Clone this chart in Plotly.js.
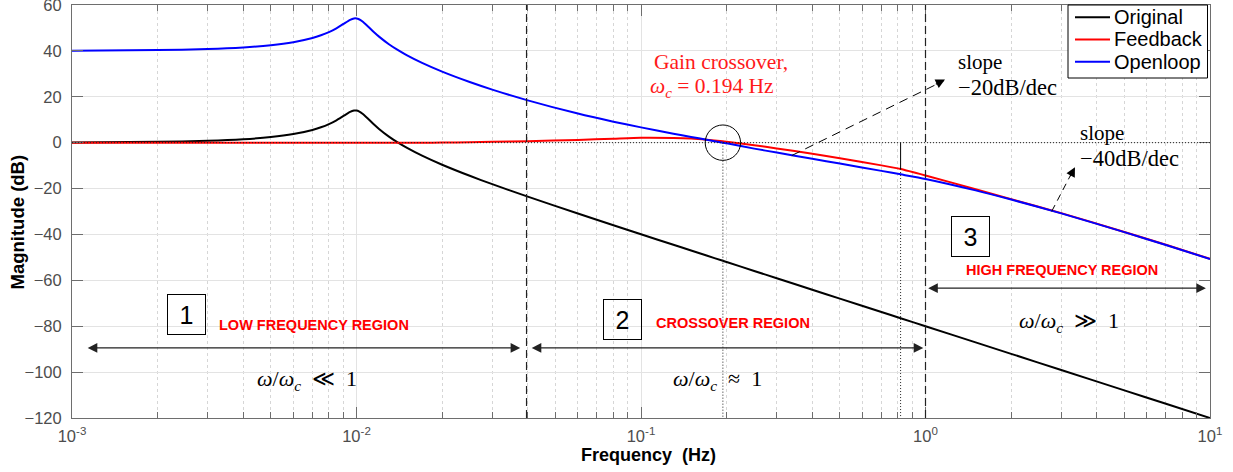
<!DOCTYPE html>
<html>
<head>
<meta charset="utf-8">
<script src="https://cdn.plot.ly/plotly-3.0.1.min.js"></script>
<style>
html,body{margin:0;padding:0;background:#ffffff;}
#chart{width:1233px;height:472px;}
</style>
</head>
<body>
<div id="chart"></div>
<script>
// ---------- data ----------
const freqHz = [0.001,0.002,0.003,0.004,0.005,0.006,0.007,0.0075,0.008,0.0085,0.009,0.0095,0.0098,0.01,0.0102,0.0105,0.011,0.0115,0.012,0.013,0.014,0.015,0.017,0.02,0.025,0.03,0.04,0.06,0.08,0.1,0.13,0.15,0.17,0.194,0.2,0.25,0.3,0.4,0.5,0.7,0.8175,1,1.5,2,3,5,7,10];

const originalDb = [0.09,0.35,0.80,1.48,2.42,3.73,5.53,6.70,8.09,9.75,11.64,13.41,13.98,13.98,13.64,12.63,10.34,8.04,6.00,2.65,0.00,-2.18,-5.67,-9.62,-14.44,-18.09,-23.53,-30.89,-35.99,-39.91,-44.51,-47.00,-49.19,-51.49,-52.02,-55.90,-59.08,-64.08,-67.96,-73.80,-76.50,-80.00,-87.04,-92.04,-99.08,-107.96,-113.80,-120.00];

const feedbackDb = [-0.09,-0.08,-0.07,-0.07,-0.06,-0.05,-0.04,-0.04,-0.03,-0.03,-0.02,-0.02,-0.02,-0.02,-0.02,-0.02,-0.02,-0.03,-0.03,-0.04,-0.04,-0.04,-0.02,0.05,0.2,0.35,0.65,1.2,1.75,2.15,2.05,1.8,1.3,0.6,0.4,-1.1,-2.5,-4.8,-6.8,-9.9,-11.5,-14.3,-20.3,-24.6,-30.7,-38.9,-44.5,-50.65];

const openloopDb = [40.09,40.35,40.81,41.50,42.46,43.79,45.61,46.79,48.19,49.86,51.76,53.55,54.13,54.13,53.80,52.80,50.52,48.24,46.22,42.90,40.29,38.15,34.76,30.96,26.43,23.12,18.43,12.68,9.16,6.66,3.92,2.51,1.29,0.0,-0.26,-2.6,-4.3,-7.0,-9.1,-12.3,-13.8,-15.8,-20.8,-24.8,-30.8,-39.0,-44.6,-50.7];

const seriesNames = ['Original','Feedback','Openloop'];
const seriesColors = ['#000000','#ff0000','#0000ff'];

const xTickVals = [0.001,0.01,0.1,1,10];
const xTickText = ['10<sup>-3</sup>','10<sup>-2</sup>','10<sup>-1</sup>','10<sup>0</sup>','10<sup>1</sup>'];

const xTitle = 'Frequency  (Hz)';
const yTitle = 'Magnitude (dB)';

// key frequencies of the annotations
const crossoverHz = 0.194;
const regionEdgesHz = [0.0396, 1.0];
const markerHz = 0.8175;
const markerDb = -11.5;

// ---------- build ----------
const W = 1233, H = 472;
const M = {l: 72, r: 23, t: 5, b: 54};
const plotW = W - M.l - M.r, plotH = H - M.t - M.b;
const xp = px => (px - M.l) / plotW;          // pixel -> paper
const yp = py => (H - M.b - py) / plotH;

const minorVals = [];
for (let d = -3; d <= 0; d++) {
  for (let m = 2; m <= 9; m++) minorVals.push(m * Math.pow(10, d));
}

const seriesY = [originalDb, feedbackDb, openloopDb];
const traces = seriesY.map((ys, i) => ({
  type: 'scatter',
  mode: 'lines',
  name: seriesNames[i],
  x: freqHz,
  y: ys,
  showlegend: false,
  line: {color: seriesColors[i], width: 2, shape: 'spline', smoothing: 0.6}
}));

const L = Math.log10;
const serif = 'Liberation Serif, Times New Roman, serif';
const sans = 'Liberation Sans, Arial, Helvetica, sans-serif';
const axisGray = '#6e6e6e';

function txt(text, lx, y, opts) {
  return Object.assign({
    text: text, x: lx, y: y, xref: 'x', yref: 'y', showarrow: false,
    xanchor: 'left', yanchor: 'middle',
    font: {family: serif, size: 21, color: '#000'}
  }, opts || {});
}
function boxNum(n, lx, y) {
  return {
    text: n, x: lx, y: y, xref: 'x', yref: 'y', showarrow: false,
    xanchor: 'center', yanchor: 'middle', width: 27, height: 29,
    bordercolor: '#000', borderwidth: 1, borderpad: 5, bgcolor: 'rgba(255,255,255,0)',
    font: {family: sans, size: 25, color: '#000'}
  };
}
function regionLabel(t, lx, y) {
  return {
    text: '<b>' + t + '</b>', x: lx, y: y, xref: 'x', yref: 'y', showarrow: false,
    xanchor: 'left', yanchor: 'middle',
    font: {family: sans, size: 14.5, color: '#ff0000'}
  };
}
function dblArrow(f0, f1, y) {
  return {
    text: '', x: L(f1), y: y, ax: L(f0), ay: y, axref: 'x', ayref: 'y', xref: 'x', yref: 'y',
    showarrow: true, arrowside: 'end+start', arrowhead: 2, startarrowhead: 2,
    arrowsize: 1.6, startarrowsize: 1.6, arrowwidth: 1.2, arrowcolor: '#222',
    standoff: 0, startstandoff: 0
  };
}
function headAt(f, y, ax, ay) {
  return {
    text: '', x: L(f), y: y, xref: 'x', yref: 'y', ax: ax, ay: ay,
    showarrow: true, arrowhead: 2, arrowsize: 1.7, arrowwidth: 1.1, arrowcolor: '#000', standoff: 0
  };
}

const w = '\u00a0';
const annotations = [
  txt('Gain crossover,', -0.962, 35.0, {font: {family: serif, size: 21.5, color: '#ff1a1a'}}),
  txt('<i>ω<sub>c</sub></i>' + w + '=' + w + '0.194 Hz', -0.975, 23.9, {font: {family: serif, size: 21.5, color: '#ff1a1a'}}),
  txt('slope', 0.107, 35.0),
  txt('−20dB/dec', 0.107, 24.1, {font: {family: serif, size: 22.5, color: '#000'}}),
  txt('slope', 0.536, 4.2),
  txt('−40dB/dec', 0.536, -6.7, {font: {family: serif, size: 22.5, color: '#000'}}),
  boxNum('1', -2.596, -74.8),
  boxNum('2', -1.065, -76.9),
  boxNum('3', 0.159, -40.7),
  regionLabel('LOW FREQUENCY REGION', -2.49, -79.4),
  regionLabel('CROSSOVER REGION', -0.956, -78.4),
  regionLabel('HIGH FREQUENCY REGION', 0.136, -55.4),
  txt('<i>ω</i>/<i>ω<sub>c</sub></i>' + w + w + '≪' + w + w + '1', -2.175, -103.4, {xanchor: 'center', font: {family: serif, size: 22, color: '#000'}}),
  txt('<i>ω</i>/<i>ω<sub>c</sub></i>' + w + w + '≈' + w + w + '1', -0.731, -103.4, {xanchor: 'center', font: {family: serif, size: 22, color: '#000'}}),
  txt('<i>ω</i>/<i>ω<sub>c</sub></i>' + w + w + '≫' + w + w + '1', 0.506, -78.0, {xanchor: 'center', font: {family: serif, size: 22, color: '#000'}}),
  dblArrow(0.001122, 0.03763, -89.45),
  dblArrow(0.04079, 0.9824, -89.45),
  dblArrow(1.0098, 9.674, -63.4),
  headAt(1.171, 27.5, -10.7, 5.4),
  headAt(3.352, -10.7, -5.5, 10.6),
  // axis titles
  {text: '<b>' + xTitle + '</b>', xref: 'paper', yref: 'paper', x: xp(649), y: yp(455),
    xanchor: 'center', yanchor: 'middle', showarrow: false,
    font: {family: sans, size: 18, color: '#000'}},
  {text: '<b>' + yTitle + '</b>', xref: 'paper', yref: 'paper', x: xp(17), y: yp(222.5),
    xanchor: 'center', yanchor: 'middle', textangle: -90, showarrow: false,
    font: {family: sans, size: 18.5, color: '#000'}}
];

// legend (boxed key in the top-right corner)
const legendRowsPx = [17.3, 39.5, 61.7];
seriesNames.forEach((nm, i) => {
  annotations.push({
    text: nm, xref: 'paper', yref: 'paper', x: xp(1112), y: yp(legendRowsPx[i]),
    xanchor: 'left', yanchor: 'middle', showarrow: false,
    font: {family: sans, size: 20, color: '#000'}
  });
});

const dbPerPx = 180 / plotH;
const decPerPx = 4 / plotW;
const circR = 17.7;

const shapes = [
  // region borders
  ...regionEdgesHz.map(f => ({type: 'line', xref: 'x', yref: 'paper', x0: f, x1: f, y0: 0, y1: 1,
    line: {color: '#222', width: 1.2, dash: '8px,4px'}})),
  // 0 dB dotted reference
  {type: 'line', xref: 'paper', yref: 'y', x0: 0, x1: 1, y0: 0, y1: 0, line: {color: '#222', width: 1, dash: '1px,2px'}},
  // crossover dotted drop line
  {type: 'line', xref: 'x', yref: 'y', x0: crossoverHz, x1: crossoverHz, y0: 0, y1: -120, line: {color: '#222', width: 1, dash: '1px,2px'}},
  // marker line near 0.82 Hz
  {type: 'line', xref: 'x', yref: 'y', x0: markerHz, x1: markerHz, y0: 0, y1: markerDb, line: {color: '#000', width: 1}},
  {type: 'line', xref: 'x', yref: 'y', x0: markerHz, x1: markerHz, y0: markerDb, y1: -120, line: {color: '#222', width: 1, dash: '1px,2px'}},
  // circle around crossover
  {type: 'circle', xref: 'x', yref: 'y',
    x0: Math.pow(10, L(crossoverHz) - circR * decPerPx), x1: Math.pow(10, L(crossoverHz) + circR * decPerPx),
    y0: -circR * dbPerPx, y1: circR * dbPerPx,
    line: {color: '#000', width: 1}},
  // dashed slope pointers
  {type: 'line', xref: 'x', yref: 'y', x0: 0.3388, y0: -5.6, x1: 1.16, y1: 27.0, line: {color: '#000', width: 1, dash: '9px,6px'}},
  {type: 'line', xref: 'x', yref: 'y', x0: 2.778, y0: -29.9, x1: 3.32, y1: -11.5, line: {color: '#000', width: 1, dash: '7px,5px'}},
  // legend box and key lines
  {type: 'rect', xref: 'paper', yref: 'paper', x0: xp(1068), x1: xp(1207.5), y0: yp(78), y1: yp(5),
    fillcolor: '#ffffff', line: {color: '#000', width: 1}},
  ...seriesColors.map((c, i) => ({type: 'line', xref: 'paper', yref: 'paper',
    x0: xp(1075), x1: xp(1110), y0: yp(legendRowsPx[i]), y1: yp(legendRowsPx[i]),
    line: {color: c, width: 2}}))
];

const layout = {
  width: W, height: H,
  margin: {l: M.l, r: M.r, t: M.t, b: M.b, pad: 0},
  paper_bgcolor: '#ffffff', plot_bgcolor: '#ffffff',
  font: {family: sans, color: '#000'},
  showlegend: false,
  xaxis: {
    type: 'log', range: [-3, 1], tickmode: 'array', tickvals: xTickVals, ticktext: xTickText,
    ticks: 'inside', ticklen: 11, tickwidth: 1, tickcolor: axisGray,
    showline: true, linecolor: axisGray, linewidth: 1, mirror: 'ticks',
    showgrid: true, gridcolor: '#e3e3e3', gridwidth: 1, zeroline: false,
    tickfont: {family: sans, size: 16.5, color: '#4d4d4d'}, ticklabelstandoff: 3,
    minor: {tickmode: 'array', tickvals: minorVals, ticks: 'inside', ticklen: 6, tickcolor: axisGray,
      showgrid: true, gridcolor: '#d6d6d6', griddash: 'dot', gridwidth: 1}
  },
  yaxis: {
    range: [-120, 60], tickmode: 'linear', tick0: 0, dtick: 20,
    ticks: 'inside', ticklen: 11, tickwidth: 1, tickcolor: axisGray,
    showline: true, linecolor: axisGray, linewidth: 1, mirror: 'ticks',
    showgrid: true, gridcolor: '#e3e3e3', gridwidth: 1, zeroline: false,
    tickfont: {family: sans, size: 16.5, color: '#4d4d4d'}, ticklabelstandoff: 6,
    ticklabeloverflow: 'allow'
  },
  shapes: shapes,
  annotations: annotations
};

Plotly.newPlot('chart', traces, layout, {staticPlot: true, displayModeBar: false});
</script>
</body>
</html>
